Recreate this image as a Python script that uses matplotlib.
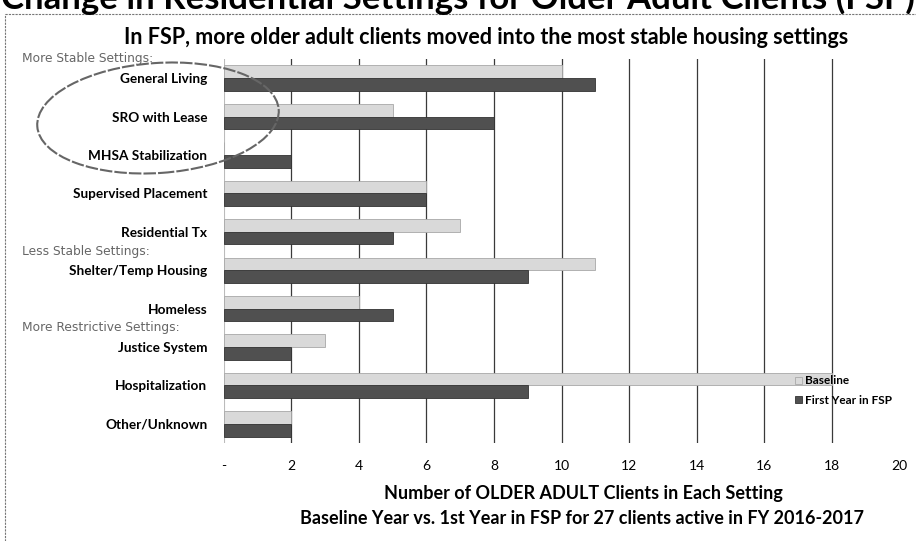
import numpy as np
import matplotlib
matplotlib.use("Agg")
import matplotlib.pyplot as plt
from matplotlib.patches import Ellipse
from matplotlib.lines import Line2D
from matplotlib.transforms import blended_transform_factory

plt.rcParams['font.family'] = ['Lato', 'DejaVu Sans']

# data
categories = ['General Living', 'SRO with Lease', 'MHSA Stabilization',
              'Supervised Placement', 'Residential Tx', 'Shelter/Temp Housing',
              'Homeless', 'Justice System', 'Hospitalization', 'Other/Unknown']
baseline = [10, 5, 0, 6, 7, 11, 4, 3, 18, 2]
first_year = [11, 8, 2, 6, 5, 9, 5, 2, 9, 2]
xticks = [0, 2, 4, 6, 8, 10, 12, 14, 16, 18, 20]
xtick_labels = ['-', '2', '4', '6', '8', '10', '12', '14', '16', '18', '20']
groups = [('More Stable Settings:', 0), ('Less Stable Settings:', 5),
          ('More Restrictive Settings:', 7)]

fig = plt.figure(figsize=(9.16, 5.41), dpi=100)
ax = fig.add_axes([0.2445, 0.181, 0.737, 0.710])

y = np.arange(len(categories))
h = 0.33
ax.barh(y - h / 2, baseline, height=h, color='#d9d9d9', edgecolor='#a8a8a8',
        lw=0.6, label='Baseline', zorder=3)
ax.barh(y + h / 2, first_year, height=h, color='#505050', edgecolor='#333333',
        lw=0.6, label='First Year in FSP', zorder=3)

ax.set_ylim(len(categories) - 0.5, -0.5)
ax.set_xlim(0, 20)
ax.set_yticks(y)
ax.set_yticklabels(categories, fontsize=9.8, fontweight='bold')
ax.set_xticks(xticks)
ax.set_xticklabels(xtick_labels, fontsize=10)
ax.tick_params(length=0, pad=12)
ax.tick_params(axis='x', pad=12)
for x in xticks[1:-1]:
    ax.axvline(x, color='#3a3a3a', lw=0.9, zorder=1)
for s in ax.spines.values():
    s.set_visible(False)
ax.axvline(0, color='#bbbbbb', lw=0.8, zorder=1)

# group headings, on the boundary above their first category
trans = blended_transform_factory(fig.transFigure, ax.transData)
for name, idx in groups:
    ax.text(22 / 916, idx - 0.5, name, transform=trans, fontsize=8.8,
            family='DejaVu Sans', color='#666666', va='center', ha='left')

ax.legend(loc='center left', bbox_to_anchor=(0.856, 0.278), bbox_transform=fig.transFigure,
          frameon=False, handlelength=0.6, handleheight=0.6, handletextpad=0.3,
          labelspacing=0.7, prop={'weight': 'bold', 'size': 8.5})

fig.text(0.531, 1 - 37 / 541, 'In FSP, more older adult clients moved into the most stable housing settings',
         ha='center', va='center', fontsize=15.5, fontweight='bold')
fig.text(0.637, 1 - 493 / 541, 'Number of OLDER ADULT Clients in Each Setting',
         ha='center', va='center', fontsize=13, fontweight='bold')
fig.text(0.635, 1 - 519 / 541, 'Baseline Year vs. 1st Year in FSP for 27 clients active in FY 2016-2017',
         ha='center', va='center', fontsize=13, fontweight='bold')

# cut-off heading at the very top of the scan
fig.text(0.5, 1 - 9 / 541, 'Change in Residential Settings for Older Adult Clients (FSP)',
         ha='center', va='baseline', fontsize=25, fontweight='bold')

# dashed frame of the pasted chart
fig.add_artist(Line2D([5 / 916, 1], [1 - 14 / 541] * 2, transform=fig.transFigure,
                      color='#777777', lw=0.8, ls=(0, (2, 1))))
fig.add_artist(Line2D([5 / 916] * 2, [0, 1 - 14 / 541], transform=fig.transFigure,
                      color='#777777', lw=0.8, ls=(0, (2, 1))))

# hand-drawn ellipse around the most stable settings (inch coordinates)
fig.add_artist(Ellipse((1.58, 5.41 - 1.18), 2.42, 1.10, angle=4,
                       transform=fig.dpi_scale_trans, fill=False, ec='#666666', lw=1.5,
                       ls=(0, (6, 1))))

fig.savefig('out.png', dpi=100)
